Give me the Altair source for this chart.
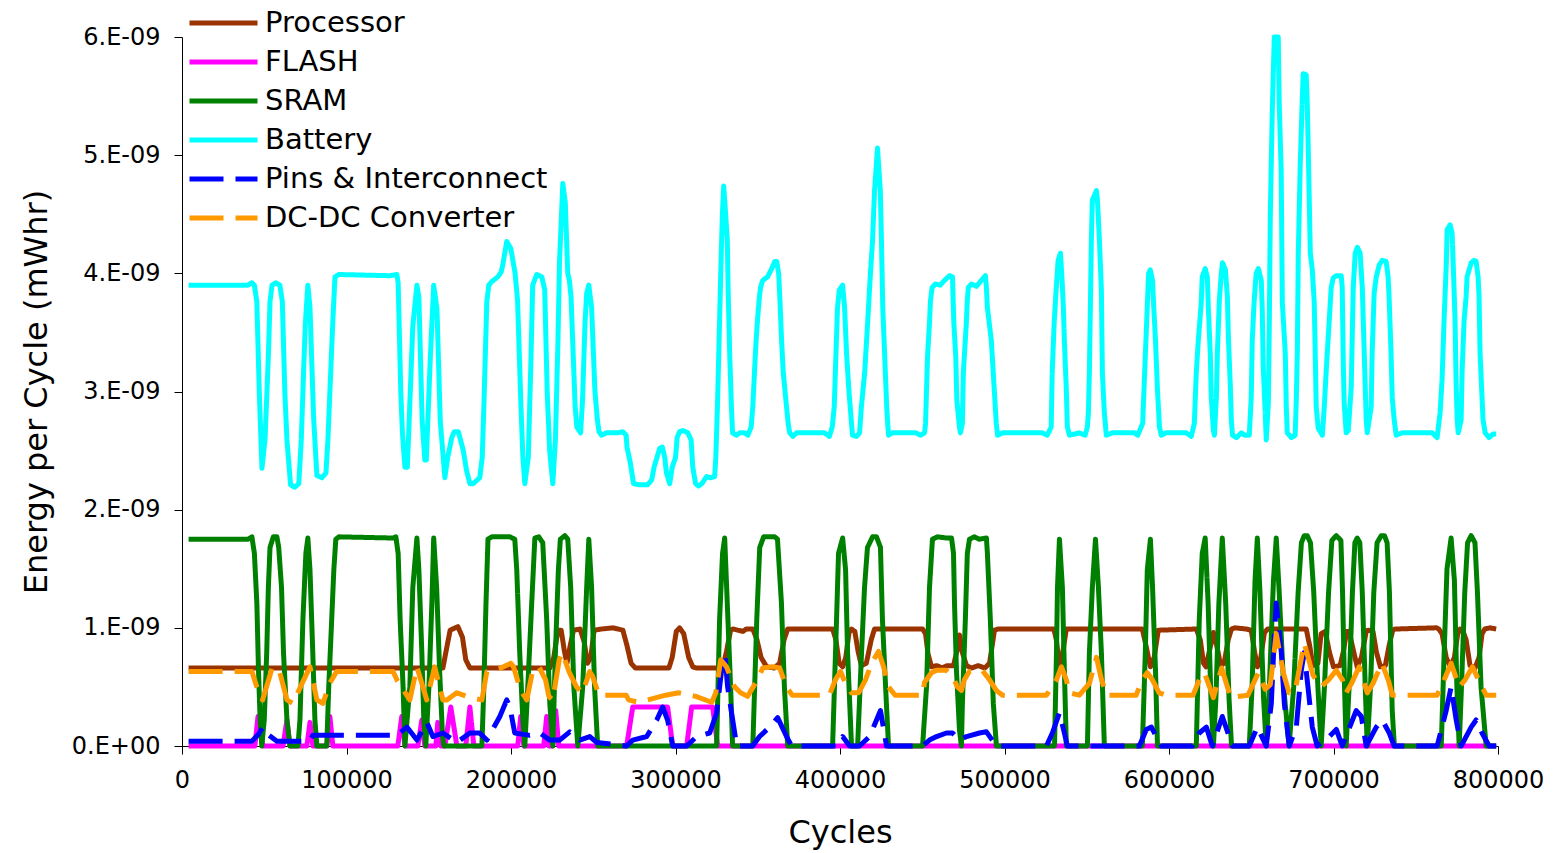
import altair as alt
import pandas as pd

# ---------------- data (cycles in thousands, energy in 1e-9 mWhr) ----------------
SERIES = ["Processor", "FLASH", "SRAM", "Battery", "Pins & Interconnect", "DC-DC Converter"]
CYCLE_UNIT = 1000
ENERGY_UNIT = 1e-9
X_TICKS = [0, 100000, 200000, 300000, 400000, 500000, 600000, 700000, 800000]
Y_TICKS = [0, 1e-9, 2e-9, 3e-9, 4e-9, 5e-9, 6e-9]

PROCESSOR = [(4,0.66),(158.6,0.66),(160.5,0.80),(163,0.98),(167.7,1.01),(170.5,0.92),(172.5,0.73),(175,0.66),
(223.6,0.66),(226,0.75),(228.5,0.98),(230.5,0.98),(232.5,0.80),(234,0.70),(236,0.85),(238,0.98),(242,0.99),
(244.5,0.88),(246.5,0.70),(248.5,0.75),(250.5,0.98),(255,0.99),(262,1.00),(265,0.99),(268,0.98),(270.5,0.85),
(273,0.70),(275.6,0.66),(296,0.66),(298,0.75),(300.5,0.97),(302.5,1.00),(305,0.95),(308,0.75),(310.5,0.67),
(312.9,0.66),(325,0.66),(329,0.68),(331,0.80),(333.5,0.98),(335,0.99),(341,0.97),(343,0.99),(347,0.99),
(349.5,0.90),(352,0.75),(355.4,0.67),(360,0.66),(363.3,0.70),(366,0.90),(368.2,0.99),(395.5,0.99),(397.5,0.90),
(399.5,0.70),(401.6,0.67),(403.5,0.75),(405.5,0.96),(407,0.99),(409,0.97),(411,0.80),(413,0.68),(416,0.70),
(419,0.90),(421,0.99),(450.2,0.99),(452,0.95),(453.5,0.78),(455.6,0.67),(459,0.68),(462,0.66),(465,0.68),
(469,0.68),(471,0.80),(472.6,0.94),(474.2,0.80),(476.9,0.68),(480,0.66),(484,0.68),(488,0.66),(490.9,0.70),
(493.9,0.98),(496,0.99),(530,0.99),(531.5,0.90),(533.4,0.68),(535.5,0.80),(537.6,0.99),(583.8,0.99),(586,0.85),
(588.7,0.67),(591,0.75),(593.5,0.98),(616.6,0.99),(619,0.90),(621,0.70),(622.5,0.67),(624.5,0.80),(627,0.96),
(629,0.85),(631.5,0.68),(633.5,0.70),(636,0.90),(638,0.99),(640,1.00),(647,0.99),(650,0.98),(652,0.80),
(653.7,0.67),(655.5,0.72),(658,0.96),(660,0.99),(683.4,0.99),(685.5,0.85),(687.5,0.68),(690.5,0.70),(692.5,0.95),
(695,0.97),(697.4,0.80),(700,0.67),(704,0.68),(706,0.80),(708,0.97),(709.5,0.97),(711.4,0.85),(714.4,0.67),
(717,0.75),(719.9,0.97),(721,0.98),(724,0.97),(726,0.80),(728.5,0.67),(731.5,0.68),(733.8,0.85),(736,0.98),
(737.5,0.99),(762.5,1.00),(764,0.99),(766,0.95),(768.5,0.75),(771,0.67),(773.5,0.75),(775.5,0.95),(777,0.99),
(778.5,0.98),(780.6,0.90),(783,0.68),(786,0.66),(788.5,0.75),(790.3,0.95),(792,0.99),(795,1.00),(798.9,0.99)]

FLASH = [(4,0.0),(44.3,0.0),(46.2,0.25),(49.2,0.0),(61.4,0.0),(63.8,0.22),(65.6,0.0),(75.9,0.0),(77.8,0.20),
(79.6,0.0),(88.1,0.0),(89.9,0.25),(91.7,0.0),(131.2,0.0),(133.6,0.25),(135.5,0.0),(143.4,0.0),(145.8,0.22),
(147.6,0.0),(154.3,0.0),(155.5,0.20),(157.3,0.0),(159.8,0.0),(163.4,0.33),(167.1,0.0),(172.5,0.0),(175,0.33),
(177.4,0.0),(204.1,0.0),(205.9,0.25),(207.8,0.0),(219.9,0.0),(221.7,0.25),(223,0.0),(225.4,0.0),(227.2,0.30),
(229,0.0),(270.3,0.0),(274,0.33),(295.2,0.33),(298.3,0.0),(306.8,0.0),(309.8,0.33),(322.6,0.33),(325.6,0.0),
(798.9,0.0)]

SRAM = [(4,1.75),(40,1.75),(42.5,1.77),(44,1.63),(45.5,1.21),(46.5,0.64),(47.5,0.22),(48.5,0.0),(50,0.22),
(51.5,0.79),(52.5,1.34),(53.5,1.68),(55.5,1.77),(57.7,1.77),(58.8,1.68),(60.5,1.34),(61.7,0.79),(63.8,0.22),
(65.6,0.0),(70.5,0.0),(71.7,0.22),(73.5,1.07),(75.3,1.63),(76.5,1.76),(77.8,1.49),(79.5,0.79),(80.8,0.22),
(82,0.0),(88,0.0),(89.2,0.5),(91,1.07),(92.3,1.49),(93.5,1.75),(95.4,1.77),(128.3,1.76),(130,1.77),(131.4,1.63),
(132.6,1.07),(134.4,0.5),(135.5,0.0),(138.5,0.5),(140.3,1.34),(142.8,1.76),(144,1.49),(145.8,0.79),(147,0.22),
(148.2,0.0),(150.1,0.5),(151.9,1.21),(153,1.76),(154.8,1.34),(156.6,0.64),(158.4,0.08),(159.2,0.0),(182.3,0.0),
(183.5,0.5),(184.8,1.21),(186,1.75),(188.3,1.77),(199.3,1.77),(202.3,1.75),(203.5,1.49),(205.3,0.79),(207.2,0.22),
(208.4,0.0),(210.2,0.5),(212.6,1.21),(214.5,1.76),(216.9,1.77),(219.3,1.72),(221.7,1.07),(223.6,0.36),(225.4,0.0),
(227,0.79),(228.8,1.49),(230,1.75),(232.7,1.78),(234.5,1.75),(236.3,1.34),(238.2,0.5),(240.6,0.0),(243.6,0.5),
(246,1.34),(247.3,1.75),(249,1.34),(250.8,0.5),(252.7,0.0),(325,0.0),(326.8,1.07),(328.6,1.63),(329.9,1.76),
(331.1,1.34),(333.5,0.5),(334.7,0.0),(347,0.0),(349.4,1.07),(351.2,1.68),(353.6,1.77),(360.3,1.77),(362,1.75),
(364.4,1.21),(366.2,0.5),(368.2,0.0),(395.5,0.0),(397.9,1.07),(399.1,1.63),(401.6,1.76),(403.4,1.49),(404.6,0.79),
(407,0.0),(410.7,0.0),(413.1,0.79),(414.9,1.34),(416.7,1.68),(419.8,1.77),(422.2,1.77),(424.6,1.68),(425.8,1.07),
(428.2,0.36),(429.5,0.0),(450.2,0.0),(452.6,0.5),(454.4,1.34),(456.2,1.75),(459.3,1.77),(464.7,1.76),(467.8,1.76),
(469,1.63),(469.6,1.21),(470.8,0.64),(472.6,0.14),(473.8,0.0),(474.4,0.36),(476.2,1.07),(477.4,1.63),(478.7,1.75),
(481.7,1.77),(484.7,1.75),(489,1.76),(489.6,1.63),(491.4,1.07),(493.2,0.36),(495.1,0.0),(530.4,0.0),(531.6,0.79),
(532.2,1.34),(533.4,1.75),(535.2,1.34),(536.4,0.64),(537.6,0.0),(550.4,0.0),(551.6,0.79),(553.4,1.34),(555.3,1.75),
(557.1,1.34),(558.9,0.79),(560.7,0.0),(583.8,0.0),(585.6,0.79),(586.8,1.49),(588.7,1.75),(590,1.34),(591.8,0.64),
(593,0.0),(616.6,0.0),(618.4,1.07),(620.2,1.63),(622,1.76),(623.8,1.2),(625.5,0.4),(627,0.0),(628.5,0.4),
(630.3,1.2),(632.4,1.76),(634.5,1.2),(636.5,0.4),(638,0.0),(648.8,0.0),(650.5,0.5),(652.3,1.4),(653.7,1.76),
(655.3,1.3),(657.5,0.4),(659.1,0.0),(661,0.5),(663.5,1.4),(665.2,1.76),(667,1.3),(669.7,0.5),(673,0.0),
(675.8,0.5),(678.5,1.3),(680.5,1.72),(682.2,1.78),(684,1.78),(686,1.72),(688,1.3),(690.5,0.5),(692.5,0.0),
(694.5,0.5),(697,1.3),(699,1.74),(701.7,1.78),(704.5,1.74),(705.5,1.3),(706.7,0.5),(707.7,0.0),(709.5,0.5),
(711.5,1.3),(713,1.72),(714.4,1.76),(716,1.72),(717.5,1.3),(719.3,0.5),(720.5,0.0),(722.5,0.5),(724.5,1.3),
(726.5,1.72),(729,1.78),(731,1.78),(732.6,1.72),(734,1.3),(735.7,0.3),(737,0.0),(765.5,0.0),(767.3,0.8),
(769,1.5),(771.5,1.76),(773.5,1.4),(775,0.5),(776.4,0.0),(777.8,0.5),(779.8,1.3),(781.5,1.72),(783.7,1.78),
(786,1.72),(787.5,1.3),(789.7,0.5),(792.8,0.0),(798.9,0.0)]

BATTERY = [(4,3.90),(40,3.90),(42.5,3.92),(44,3.90),(45.5,3.76),(47,2.99),(48.6,2.35),(50.5,2.60),(52.5,3.30),
(53.5,3.76),(54.7,3.90),(57,3.92),(59.5,3.90),(61,3.76),(62.5,3.0),(63.8,2.59),(66,2.21),(68.6,2.19),(71,2.22),
(72.5,2.59),(74,3.2),(75,3.58),(76.5,3.90),(77.8,3.71),(80,2.78),(82,2.29),(85,2.27),(87.5,2.31),(88.7,2.59),
(91.7,3.60),(93,3.97),(95.4,3.99),(126,3.98),(130.6,3.99),(131.4,3.92),(133,3.00),(134,2.65),(135.5,2.36),
(137,2.36),(138.5,2.9),(140.3,3.55),(142.8,3.90),(144,3.80),(146,2.75),(147.6,2.42),(148.5,2.42),(151,3.30),
(153,3.90),(155,3.70),(157,2.75),(159.8,2.27),(161.5,2.44),(164,2.61),(165.5,2.66),(168,2.66),(171,2.50),
(173,2.33),(175,2.22),(177,2.22),(181,2.27),(182.5,2.44),(183.5,2.87),(185.3,3.76),(186.5,3.90),(188.3,3.93),
(192,3.97),(194,4.01),(195,4.07),(196.2,4.17),(197.4,4.27),(199.9,4.21),(201.5,4.08),(202.5,4.00),(204,3.77),
(206,2.90),(207.2,2.45),(208.4,2.22),(210.5,2.44),(212,3.20),(213.2,3.90),(215.6,3.99),(218.7,3.97),(220.5,3.86),
(222,3.00),(223.5,2.50),(225.4,2.22),(227,2.59),(228.5,3.40),(229.5,4.10),(231.5,4.76),(233,4.60),(234.5,4.00),
(235.5,3.94),(236.5,3.80),(239,2.87),(240,2.70),(242.3,2.65),(243.5,2.93),(245,3.58),(246,3.83),(247.3,3.90),
(249,3.71),(251,3.01),(252.5,2.76),(253.5,2.66),(255,2.63),(258,2.65),(265,2.65),(267.9,2.66),(270,2.63),
(270.5,2.53),(272.5,2.40),(273.5,2.31),(274.5,2.22),(278.2,2.21),(283,2.21),(285.5,2.25),(287,2.36),(290.4,2.52),
(292,2.53),(293.5,2.44),(294.5,2.31),(296.5,2.22),(298,2.36),(300,2.44),(301,2.61),(302.5,2.66),(304.5,2.67),
(307.5,2.65),(309.5,2.59),(310.5,2.36),(312.2,2.22),(314,2.20),(316,2.22),(318.9,2.28),(321,2.27),(323.8,2.28),
(324.5,2.44),(325.5,2.87),(326.5,3.43),(327.5,4.00),(328.5,4.50),(329.3,4.74),(330.5,4.50),(331.5,4.28),
(332,3.86),(333,3.29),(334,2.87),(334.7,2.65),(337,2.63),(339,2.65),(342,2.65),(344,2.63),(346,2.70),(347,2.87),
(348,3.16),(349,3.43),(350,3.63),(351,3.80),(351.7,3.88),(353,3.94),(356,3.97),(358.5,4.04),(360.3,4.10),
(361.5,4.10),(362.7,4.00),(363.5,3.77),(364.5,3.43),(365.5,3.16),(367.5,2.87),(368.5,2.73),(369.4,2.65),
(371.3,2.62),(373.6,2.65),(390.6,2.65),(393.5,2.62),(395.3,2.70),(396.5,2.87),(397.8,3.43),(398.5,3.71),
(399.6,3.86),(401.6,3.90),(402.8,3.71),(404,3.32),(405.4,3.01),(407,2.73),(407.6,2.63),(410,2.62),(411.9,2.65),
(413,2.87),(415,3.16),(416.8,3.58),(418.5,4.00),(419.8,4.28),(421,4.70),(422.8,5.06),(424.5,4.70),(425.2,4.28),
(426,3.71),(427.2,3.29),(428.4,2.87),(429,2.73),(429.5,2.63),(431.8,2.65),(446,2.65),(449,2.63),(451.4,2.65),
(452,2.73),(452.6,3.01),(453.2,3.29),(454.4,3.58),(455,3.77),(456,3.88),(458,3.91),(461,3.90),(463.5,3.94),
(466.6,3.98),(468.4,3.97),(468.6,3.86),(469.2,3.58),(470.4,3.29),(471,2.93),(472.6,2.70),(473.2,2.65),
(474.4,2.73),(475,3.16),(476.8,3.58),(477.4,3.77),(478,3.88),(479.9,3.91),(482.9,3.89),(485.9,3.94),(488.4,3.98),
(489,3.88),(489.6,3.71),(492,3.43),(493.8,3.01),(495,2.73),(495.8,2.63),(498.8,2.65),(523,2.65),(526,2.63),
(528.4,2.70),(529,3.16),(530.2,3.58),(531.4,3.86),(532.6,4.11),(534,4.17),(535,3.94),(535.8,3.71),(536.4,3.43),
(537.6,3.01),(538.2,2.70),(539.5,2.63),(545.5,2.65),(549,2.63),(550.4,2.70),(551,2.82),(551.6,3.16),(552.2,3.71),
(552.8,4.28),(553.4,4.62),(555.9,4.70),(556.5,4.62),(557.7,4.28),(558.9,3.86),(559.5,3.16),(560.7,2.82),
(561.9,2.63),(565.5,2.65),(579,2.65),(581,2.63),(584,2.73),(585.2,3.16),(586.4,3.58),(587.6,4.00),(588.6,4.03),
(590,3.94),(590.6,3.75),(591.8,3.43),(593,3.01),(594.2,2.70),(595.3,2.63),(598,2.65),(610.5,2.65),(613.5,2.62),
(615.4,2.73),(616.6,3.16),(617.8,3.43),(619.6,3.75),(620.2,3.97),(622,4.04),(623.3,3.97),(623.9,3.71),
(625.1,3.32),(625.7,2.95),(627,2.67),(627.6,2.63),(628.8,2.95),(629.4,3.32),(630.6,3.77),(631.8,4.00),
(632.5,4.09),(634.3,4.03),(635.5,3.80),(636.1,3.46),(637.3,3.04),(637.9,2.76),(638.6,2.63),(641,2.61),(644,2.65),
(646,2.63),(648.8,2.63),(650,2.95),(650.6,3.43),(651.8,3.77),(653,4.00),(654.3,4.04),(656.1,3.94),(656.7,3.69),
(657.3,3.21),(658.5,2.82),(659.1,2.59),(660.4,2.90),(661,3.60),(661.6,4.51),(662.8,5.38),(664,6.00),(666.4,6.00),
(667,5.44),(668.2,4.87),(668.9,3.75),(670.7,3.32),(671.3,2.87),(671.9,2.65),(674.3,2.61),(676.7,2.63),
(677.4,2.93),(678,3.32),(678.6,4.17),(679.8,4.93),(681,5.47),(681.6,5.69),(683.4,5.68),(684,5.47),(684.7,5.02),
(685.9,4.17),(687.1,4.03),(688.3,3.75),(688.9,3.32),(689.5,2.87),(690.7,2.69),(693.2,2.63),(694.4,2.87),
(695.6,3.18),(697.4,3.60),(698.6,3.88),(699.8,3.96),(701.7,3.98),(704.7,3.98),(705.3,3.88),(705.5,3.69),
(706,3.21),(706.5,2.90),(707.7,2.65),(709,2.67),(710.8,3.04),(711.4,3.46),(712,3.88),(713.2,4.17),(714.5,4.22),
(716.2,4.17),(717.5,3.88),(718.7,3.32),(719.9,2.76),(720.5,2.65),(722.9,2.87),(723.5,3.32),(724.7,3.83),
(726,3.97),(727.8,4.07),(729.6,4.11),(732,4.10),(733.2,3.97),(733.8,3.80),(735,3.32),(735.7,2.95),(736.9,2.76),
(738.1,2.63),(741.7,2.65),(760,2.65),(763,2.61),(764.8,2.82),(766,3.10),(767.2,3.60),(768.5,4.05),(769.1,4.37),
(770.9,4.41),(772.1,4.34),(772.7,4.11),(773.9,3.60),(774.5,3.10),(775.2,2.76),(775.8,2.65),(777.6,2.76),
(778.2,3.18),(779.4,3.60),(780.6,3.80),(781.2,3.97),(783.7,4.09),(785.5,4.11),(786.7,4.10),(787.9,3.97),
(788.5,3.80),(789.1,3.32),(790.3,2.95),(790.9,2.76),(792.2,2.65),(794.6,2.61),(797,2.64),(798.9,2.64)]

PINS = [(4,0.04),(42.5,0.04),(46.5,0.10),(49.2,0.16),(52,0.10),(57.7,0.04),(77.5,0.04),(79.5,0.09),(130.6,0.09),
(136.7,0.16),(142.8,0.05),(148.8,0.20),(152.5,0.08),(158.6,0.11),(167.1,0.03),(175,0.11),(181,0.11),(185.3,0.05),
(193.2,0.25),(197.4,0.39),(199.3,0.33),(202.3,0.11),(211.4,0.09),(217.5,0.11),(223.6,0.05),(229.6,0.05),
(235.7,0.12),(241.8,0.05),(247.9,0.08),(252.1,0.03),(270.3,0.0),(274,0.05),(282.5,0.08),(288.6,0.22),(292.2,0.33),
(295.2,0.22),(298.3,0.0),(306.8,0.0),(312.9,0.08),(320.8,0.11),(325,0.28),(328,0.64),(329.9,0.79),(331.7,0.50),
(334.1,0.28),(337.2,0.0),(346.9,0.0),(351.1,0.08),(357.2,0.16),(362.1,0.24),(367.5,0.08),(370.6,0.0),(397.9,0.0),
(401.6,0.08),(405.8,0.0),(411.9,0.0),(418,0.08),(422.2,0.22),(424.6,0.30),(428.3,0.0),(450.2,0.0),(454.4,0.05),
(458.7,0.08),(464.7,0.11),(468.4,0.11),(472.6,0.05),(476.9,0.08),(484.8,0.11),(489,0.12),(495.1,0.0),(525.5,0.0),
(529.1,0.11),(533.4,0.28),(536.4,0.11),(538.2,0.0),(582,0.0),(586.2,0.14),(589.3,0.16),(592.3,0.08),(595.4,0.0),
(614.2,0.0),(618.4,0.11),(622.7,0.16),(626.3,0.0),(632.4,0.25),(638.5,0.0),(648.8,0.0),(653.7,0.16),(659.1,0.0),
(662.2,0.36),(664,0.92),(665.2,1.21),(668.3,0.79),(670.1,0.36),(673.1,0.0),(677.4,0.16),(680.4,0.64),(682.2,0.79),
(684,0.56),(687.1,0.16),(690.1,0.0),(697.4,0.08),(701.7,0.14),(705.3,0.0),(713.8,0.30),(716.9,0.25),(719.9,0.0),
(726,0.16),(729.6,0.22),(733.9,0.11),(736.9,0.0),(763,0.0),(768.5,0.30),(771.5,0.50),(774.6,0.22),(777.6,0.0),
(783.7,0.16),(786.7,0.22),(790.3,0.11),(794.6,0.0),(798.9,0.0)]

DCDC = [(4,0.63),(42.5,0.63),(45.5,0.50),(49,0.39),(55,0.67),(59.5,0.62),(63.8,0.39),(67.4,0.36),(73,0.53),
(77.8,0.67),(82,0.39),(85.6,0.36),(89.8,0.53),(94,0.63),(128.3,0.63),(131,0.55),(138.5,0.39),(142.8,0.67),
(148.8,0.39),(153.6,0.67),(158.6,0.39),(161,0.39),(167,0.45),(175,0.41),(182.3,0.39),(185.3,0.63),(193.8,0.66),
(199.9,0.70),(201.5,0.67),(205.9,0.47),(209.6,0.39),(213.2,0.64),(217,0.67),(221,0.56),(223,0.42),(225.4,0.39),
(229.3,0.73),(231.2,0.79),(235.5,0.62),(239.8,0.50),(243.5,0.45),(247.8,0.63),(249.6,0.59),(253.5,0.43),
(270,0.43),(271.5,0.39),(277.5,0.37),(294,0.43),(302,0.45),(312.3,0.42),(322,0.37),(324.5,0.45),(327.5,0.73),
(329.3,0.70),(331,0.67),(335.9,0.50),(339.6,0.45),(343.8,0.42),(349.8,0.56),(353,0.66),(359,0.67),(363.3,0.66),
(367.4,0.50),(371,0.43),(393.5,0.43),(397.2,0.56),(400.3,0.63),(403.4,0.53),(407,0.45),(411.3,0.45),(415.5,0.56),
(419.2,0.70),(423.4,0.80),(426.5,0.67),(429.5,0.50),(433.5,0.43),(450.2,0.43),(451.4,0.54),(455.6,0.62),
(458.6,0.64),(464.7,0.64),(468.4,0.59),(471.4,0.50),(473.8,0.47),(475.6,0.56),(478.6,0.63),(486.5,0.64),
(490.9,0.56),(495,0.47),(498.8,0.43),(525.5,0.43),(531.6,0.56),(534.6,0.67),(537.6,0.56),(539.4,0.45),
(545.5,0.43),(551.6,0.53),(555.9,0.75),(559,0.56),(562,0.43),(580,0.43),(583.8,0.56),(586.8,0.62),(589.9,0.56),
(594,0.45),(598,0.43),(614.6,0.43),(618.4,0.56),(621.5,0.62),(627,0.41),(632,0.66),(637.5,0.41),(648,0.43),
(654.3,0.62),(658.5,0.48),(661.6,0.52),(665.2,0.95),(669.5,0.62),(673,0.45),(676.6,0.46),(682.2,0.87),
(687.5,0.60),(692.5,0.50),(697,0.56),(701.7,0.64),(705.5,0.56),(707.7,0.45),(711,0.53),(715.6,0.67),(720.5,0.45),
(724,0.53),(729.5,0.70),(733.5,0.55),(735.7,0.43),(763,0.43),(767,0.55),(771.5,0.70),(776.4,0.50),(780,0.56),
(784.5,0.67),(788.5,0.55),(792.8,0.43),(798.9,0.43)]

SERIES_POINTS = [PROCESSOR, FLASH, SRAM, BATTERY, PINS, DCDC]

# ---------------- styles ----------------
COLORS = ["#993300", "#FF00FF", "#008000", "#00FFFF", "#0000FF", "#FF9900"]
DASHES = [[1, 0], [1, 0], [1, 0], [1, 0], [34, 12], [34, 12]]
FONT = "DejaVu Sans"

rows = []
for name, pts in zip(SERIES, SERIES_POINTS):
    for k, v in pts:
        rows.append({"series": name, "cycles": k * CYCLE_UNIT, "energy": v * ENERGY_UNIT})
df = pd.DataFrame(rows)

x_enc = alt.X(
    "cycles:Q",
    scale=alt.Scale(domain=[0, 800000], nice=False),
    axis=alt.Axis(values=X_TICKS, format="d", title="Cycles", labelPadding=14, titlePadding=25),
)
y_enc = alt.Y(
    "energy:Q",
    scale=alt.Scale(domain=[0, 6e-9], nice=False),
    axis=alt.Axis(
        values=Y_TICKS,
        title="Energy per Cycle (mWhr)",
        labelExpr="datum.value == 0 ? '0.E+00' : round(datum.value * 1e9) + '.E-09'",
        labelPadding=14,
        titlePadding=18,
    ),
)
legend = alt.Legend(
    title=None,
    orient="none",
    legendX=5,
    legendY=-29,
    symbolType="stroke",
    symbolSize=4624,
    symbolStrokeWidth=5,
    labelOffset=5,
    clipHeight=30,
    rowPadding=9,
    padding=0,
    labelLimit=0,
    labelFontSize=29,
    labelFont=FONT,
    labelColor="black",
)
color_enc = alt.Color("series:N", scale=alt.Scale(domain=SERIES, range=COLORS), legend=legend)
dash_enc = alt.StrokeDash("series:N", scale=alt.Scale(domain=SERIES, range=DASHES), legend=legend)

layers = []
for name in SERIES:
    layers.append(
        alt.Chart(df)
        .transform_filter(alt.datum.series == name)
        .mark_line(strokeWidth=5, strokeJoin="round", strokeCap="butt")
        .encode(x=x_enc, y=y_enc, color=color_enc, strokeDash=dash_enc)
    )

chart = (
    alt.layer(*layers)
    .properties(
        width=1316,
        height=709,
        padding={"left": 182, "top": 37, "right": 55, "bottom": 107},
        autosize=alt.AutoSizeParams(type="none"),
        background="white",
    )
    .configure_view(stroke=None)
    .configure_axis(
        grid=False,
        domainColor="black",
        domainWidth=1,
        tickColor="black",
        tickSize=8,
        labelColor="black",
        titleColor="black",
        labelFont=FONT,
        titleFont=FONT,
        labelFontSize=24,
        titleFontSize=32,
        titleFontWeight="normal",
        labelFlush=False,
        labelOverlap=False,
    )
)

chart.save("out.html", embed_options={"renderer": "svg", "actions": False})
